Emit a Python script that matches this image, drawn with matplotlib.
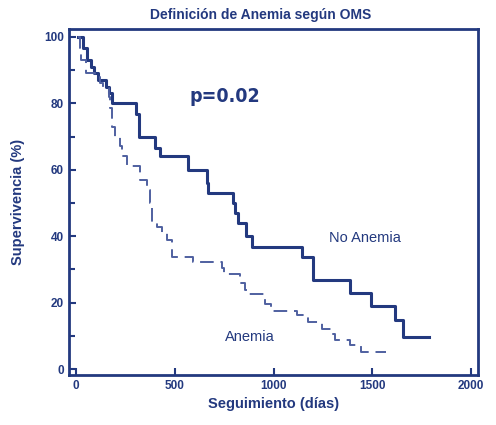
import matplotlib
matplotlib.use("Agg")
import matplotlib.pyplot as plt
from matplotlib.ticker import MultipleLocator

plt.rcParams['font.family'] = ['Liberation Sans', 'DejaVu Sans']

# Kaplan-Meier curves (days, % survival)
no_anemia_t = [10, 37, 54, 76, 91, 110, 152, 167, 182, 304, 319, 400, 425, 567, 663, 668,
               795, 805, 820, 861, 891, 1144, 1200, 1387, 1494, 1615, 1656, 1787]
no_anemia_s = [100, 96.5, 93, 91, 89, 87, 85, 83, 80, 76.7, 70, 66.5, 64, 60, 56, 53,
               50, 47, 44, 40, 36.7, 33.7, 26.8, 22.9, 19, 14.7, 9.6, 9.6]

anemia_t = [10, 20, 28, 51, 96, 122, 137, 167, 172, 182, 197, 223, 233, 258, 324, 360,
            375, 385, 410, 435, 461, 486, 592, 739, 750, 830, 856, 871, 957, 985,
            1119, 1175, 1246, 1296, 1311, 1387, 1443, 1570]
anemia_s = [100, 96.5, 93, 89, 88, 86, 84.5, 82, 78.5, 73, 70, 67, 64, 61, 57, 54,
            50, 44, 42.7, 41, 38.8, 33.7, 32.2, 30.4, 28.6, 26, 23.8, 22.6, 19.5, 17.4,
            16.2, 14.1, 12, 10.5, 8.7, 7.2, 5.1, 5.1]

x_ticks = [0, 500, 1000, 1500, 2000]
y_ticks = [0, 20, 40, 60, 80, 100]

navy = "#23397f"
light = "#4f60a0"

fig = plt.figure(figsize=(4.96, 4.25), dpi=100)
ax = fig.add_axes([0.139, 0.1176, 0.825, 0.8144])

ax.step(no_anemia_t, no_anemia_s, where="post", color=navy, lw=2.2)
ax.step(anemia_t, anemia_s, where="post", color=light, lw=1.4,
        dashes=(7, 3.5))

ax.set_xlim(-35, 2035)
ax.set_ylim(-1.8, 102.4)
ax.set_xticks(x_ticks)
ax.set_yticks(y_ticks)
ax.yaxis.set_minor_locator(MultipleLocator(10))
ax.tick_params(which="both", direction="in", color=navy, width=1.5)
ax.tick_params(which="major", length=5, labelsize=8.5, labelcolor=navy)
ax.tick_params(which="minor", length=4)
for lab in ax.get_xticklabels() + ax.get_yticklabels():
    lab.set_fontweight("bold")
for sp in ax.spines.values():
    sp.set_color(navy)
    sp.set_linewidth(2)

ax.set_xlabel("Seguimiento (días)", color=navy, fontsize=10.5, fontweight="bold", labelpad=4)
ax.set_ylabel("Supervivencia (%)", color=navy, fontsize=10.5, fontweight="bold", labelpad=14)
fig.text(0.525, 0.965, "Definición de Anemia según OMS", color=navy, fontsize=10,
         fontweight="bold", ha="center", va="center")

ax.text(755, 82, "p=0.02", color=navy, fontsize=14, fontweight="bold",
        family="DejaVu Sans", fontstretch="condensed", ha="center", va="center")
ax.text(1463, 39.5, "No Anemia", color=navy, fontsize=10.5, ha="center", va="center")
ax.text(881, 9.6, "Anemia", color=navy, fontsize=10.5, ha="center", va="center")

fig.savefig("out.png", dpi=100)
